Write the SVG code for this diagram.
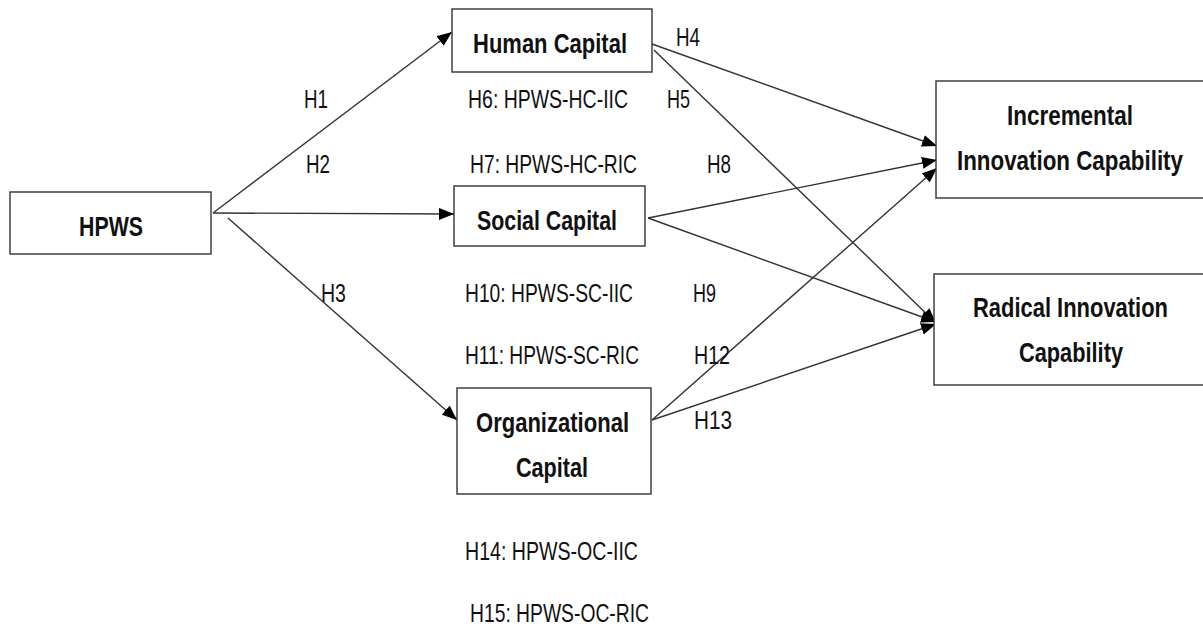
<svg xmlns="http://www.w3.org/2000/svg" width="1203" height="627" viewBox="0 0 1203 627">
<style>
.box{fill:#fff;stroke:#333;stroke-width:1.4}
.n{font-family:"Liberation Sans",Arial,sans-serif;font-weight:bold;font-size:28px;fill:#111}
.t{font-family:"Liberation Sans",Arial,sans-serif;font-size:26px;fill:#111}
.c{fill:none;stroke:#333;stroke-width:1.4;marker-end:url(#ah)}
</style>
<defs>
<marker id="ah" markerUnits="userSpaceOnUse" markerWidth="16" markerHeight="12" refX="15" refY="6" orient="auto">
<path d="M0,0 L15,6 L0,12 z" fill="#000"/>
</marker>
</defs>
<rect width="1203" height="627" fill="#fff"/>
<g id="connectors">
<line class="c" x1="213" y1="213" x2="452" y2="32"/>
<line class="c" x1="213" y1="213" x2="454" y2="214"/>
<line class="c" x1="228" y1="218" x2="457" y2="420"/>
<line class="c" x1="652" y1="44" x2="937" y2="146"/>
<line class="c" x1="654" y1="50" x2="936" y2="323"/>
<line class="c" x1="648" y1="218" x2="937" y2="160"/>
<line class="c" x1="648" y1="218" x2="936" y2="322"/>
<line class="c" x1="652" y1="420" x2="937" y2="168"/>
<line class="c" x1="652" y1="420" x2="936" y2="324"/>
</g>
<g id="hpws">
<rect class="box" x="10" y="192" width="201" height="62"/>
<text class="n" x="79" y="236" textLength="64" lengthAdjust="spacingAndGlyphs">HPWS</text>
</g>
<g id="human-capital">
<rect class="box" x="452" y="9" width="200" height="63"/>
<text class="n" x="473" y="53" textLength="154" lengthAdjust="spacingAndGlyphs">Human Capital</text>
</g>
<g id="social-capital">
<rect class="box" x="454" y="186" width="191" height="60"/>
<text class="n" x="477" y="230" textLength="140" lengthAdjust="spacingAndGlyphs">Social Capital</text>
</g>
<g id="organizational-capital">
<rect class="box" x="457" y="388" width="194" height="106"/>
<text class="n" x="476" y="432" textLength="153" lengthAdjust="spacingAndGlyphs">Organizational</text>
<text class="n" x="516" y="477" textLength="72" lengthAdjust="spacingAndGlyphs">Capital</text>
</g>
<g id="incremental">
<rect class="box" x="936" y="81" width="270" height="117"/>
<text class="n" x="1007" y="125" textLength="126" lengthAdjust="spacingAndGlyphs">Incremental</text>
<text class="n" x="957" y="170" textLength="226" lengthAdjust="spacingAndGlyphs">Innovation Capability</text>
</g>
<g id="radical">
<rect class="box" x="934" y="274" width="272" height="111"/>
<text class="n" x="973" y="317" textLength="195" lengthAdjust="spacingAndGlyphs">Radical Innovation</text>
<text class="n" x="1019" y="362" textLength="104" lengthAdjust="spacingAndGlyphs">Capability</text>
</g>
<g id="labels">
<text class="t" x="304" y="108" textLength="24" lengthAdjust="spacingAndGlyphs">H1</text>
<text class="t" x="306" y="173" textLength="24" lengthAdjust="spacingAndGlyphs">H2</text>
<text class="t" x="321" y="302" textLength="25" lengthAdjust="spacingAndGlyphs">H3</text>
<text class="t" x="676" y="46" textLength="24" lengthAdjust="spacingAndGlyphs">H4</text>
<text class="t" x="667" y="108" textLength="23" lengthAdjust="spacingAndGlyphs">H5</text>
<text class="t" x="468" y="108" textLength="160" lengthAdjust="spacingAndGlyphs">H6: HPWS-HC-IIC</text>
<text class="t" x="470" y="173" textLength="167" lengthAdjust="spacingAndGlyphs">H7: HPWS-HC-RIC</text>
<text class="t" x="707" y="173" textLength="24" lengthAdjust="spacingAndGlyphs">H8</text>
<text class="t" x="693" y="302" textLength="23" lengthAdjust="spacingAndGlyphs">H9</text>
<text class="t" x="465" y="302" textLength="168" lengthAdjust="spacingAndGlyphs">H10: HPWS-SC-IIC</text>
<text class="t" x="465" y="364" textLength="174" lengthAdjust="spacingAndGlyphs">H11: HPWS-SC-RIC</text>
<text class="t" x="694" y="364" textLength="36" lengthAdjust="spacingAndGlyphs">H12</text>
<text class="t" x="694" y="429" textLength="38" lengthAdjust="spacingAndGlyphs">H13</text>
<text class="t" x="465" y="560" textLength="173" lengthAdjust="spacingAndGlyphs">H14: HPWS-OC-IIC</text>
<text class="t" x="470" y="622" textLength="179" lengthAdjust="spacingAndGlyphs">H15: HPWS-OC-RIC</text>
</g>
</svg>
